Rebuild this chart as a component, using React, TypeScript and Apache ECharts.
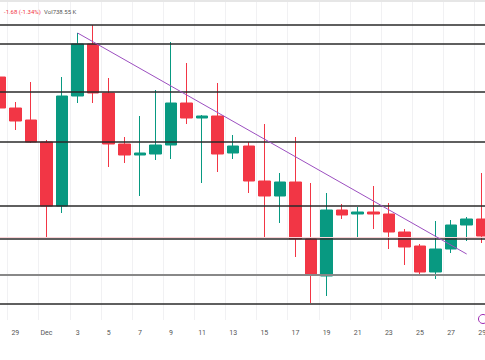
import React, { useEffect, useRef } from "react";
import * as echarts from "echarts";

const dates = [
  "Nov 28", "Nov 29", "Nov 30",
  "Dec 1", "Dec 2", "Dec 3", "Dec 4", "Dec 5", "Dec 6", "Dec 7", "Dec 8", "Dec 9", "Dec 10",
  "Dec 11", "Dec 12", "Dec 13", "Dec 14", "Dec 15", "Dec 16", "Dec 17", "Dec 18", "Dec 19", "Dec 20",
  "Dec 21", "Dec 22", "Dec 23", "Dec 24", "Dec 25", "Dec 26", "Dec 27", "Dec 28", "Dec 29",
];
const opens = [142.3, 139.2, 138.0, 135.8, 129.4, 140.4, 145.6, 140.7, 135.6, 134.5, 134.6, 135.5, 139.7, 138.2, 138.4, 134.7, 135.4, 131.9, 130.4, 131.8, 126.1, 122.4, 129.0, 128.6, 128.8, 128.6, 126.8, 125.4, 122.8, 125.1, 127.5, 128.1];
const closes = [139.2, 137.9, 135.8, 129.4, 140.4, 145.6, 140.7, 135.6, 134.5, 134.7, 135.5, 139.7, 138.2, 138.4, 134.6, 135.4, 131.9, 130.4, 131.8, 126.1, 122.5, 129.0, 128.5, 128.8, 128.6, 126.8, 125.3, 122.8, 125.1, 127.5, 128.1, 126.4];
const lows = [138.8, 137.0, 135.7, 126.2, 128.7, 139.7, 139.7, 133.3, 133.7, 130.4, 134.0, 134.1, 137.6, 131.7, 132.8, 134.1, 130.7, 126.3, 127.7, 124.3, 119.7, 120.4, 128.1, 126.3, 127.1, 125.1, 123.5, 122.6, 122.1, 124.7, 125.9, 125.7];
const highs = [143.2, 139.8, 141.8, 136.0, 142.3, 146.7, 147.5, 142.2, 136.3, 138.4, 141.0, 145.8, 143.7, 138.5, 141.7, 136.5, 135.8, 137.6, 132.7, 136.3, 131.7, 130.7, 129.6, 129.3, 131.4, 129.7, 127.1, 125.6, 127.9, 128.0, 128.3, 132.7];
const levels = [147.5, 145.6, 140.8, 135.8, 129.4, 126.1, 119.6];
const grayLevel = 122.5;
const lastPrice = 126.3;
const trendStart = { date: "Dec 3", price: 146.7 };
const trendEnd = { date: "Dec 28", price: 124.6 };

const OFFSET = 8;

export default function App() {
  const ref = useRef<HTMLDivElement>(null);
  useEffect(() => {
    document.body.style.margin = "0";
    const chart = echarts.init(ref.current!, null, { renderer: "svg" });
    const candleData = dates.map((_, i) => [opens[i], closes[i], lows[i], highs[i]]);
    chart.setOption({
      animation: false,
      backgroundColor: "#ffffff",
      grid: { left: 0, right: 0, top: 0, bottom: 40 },
      xAxis: {
        type: "category",
        data: dates,
        boundaryGap: true,
        axisLine: { show: false },
        axisTick: { show: false },
        axisLabel: {
          interval: (i: number) => i % 2 === 1,
          formatter: (v: string) => {
            const d = v.split(" ")[1];
            return d === "1" ? "Dec" : d;
          },
          color: "#555",
          fontSize: 7,
          fontFamily: "Roboto",
          margin: 9,
        },
        splitLine: {
          show: true,
          interval: (i: number) => i % 2 === 1,
          lineStyle: { color: "#f1f1f3", width: 1 },
        },
      },
      yAxis: {
        type: "value",
        min: 118,
        max: 150,
        show: false,
        splitLine: { show: false },
      },
      graphic: [
        { type: "line", shape: { x1: 0, y1: 1, x2: 500, y2: 1 }, style: { stroke: "#e6e6e6", lineWidth: 2 }, z: 10 },
        {
          type: "text",
          x: 4 + OFFSET,
          y: 5,
          style: {
            text: "{r|-1.68 (-1.34%)} {g|Vol738.55 K}",
            rich: {
              r: { fill: "#f23645", fontSize: 6, fontFamily: "Roboto" },
              g: { fill: "#555", fontSize: 6, fontFamily: "Roboto" },
            },
          },
          z: 10,
        },
        { type: "circle", shape: { cx: 483 + OFFSET, cy: 319, r: 4.5 }, style: { fill: "#fff", stroke: "#9c27b0", lineWidth: 1 }, z: 10 },
      ],
      series: [
        {
          type: "candlestick",
          data: candleData,
          barWidth: 12,
          itemStyle: {
            color: "#089981",
            color0: "#f23645",
            borderColor: "#089981",
            borderColor0: "#f23645",
            borderWidth: 1,
          },
          markLine: {
            silent: true,
            symbol: ["none", "none"],
            label: { show: false },
            data: [
              { yAxis: lastPrice, lineStyle: { color: "#fbd3d7", width: 1, type: "solid", opacity: 1 } },
              ...levels.map((v) => ({ yAxis: v, lineStyle: { color: "#2a2a2a", width: 1.5, type: "solid" } })),
              { yAxis: grayLevel, lineStyle: { color: "#888", width: 2, type: "solid" } },
              [
                { coord: [trendStart.date, trendStart.price], lineStyle: { color: "#9c4fc0", width: 1, type: "solid" } },
                { coord: [trendEnd.date, trendEnd.price] },
              ],
            ],
          },
        },
      ],
    });
    return () => chart.dispose();
  }, []);
  return (
    <div style={{ position: "relative", width: 485, height: 360, overflow: "hidden" }}>
      <div ref={ref} style={{ position: "absolute", left: -OFFSET, top: 0, width: 498, height: 360 }} />
    </div>
  );
}
